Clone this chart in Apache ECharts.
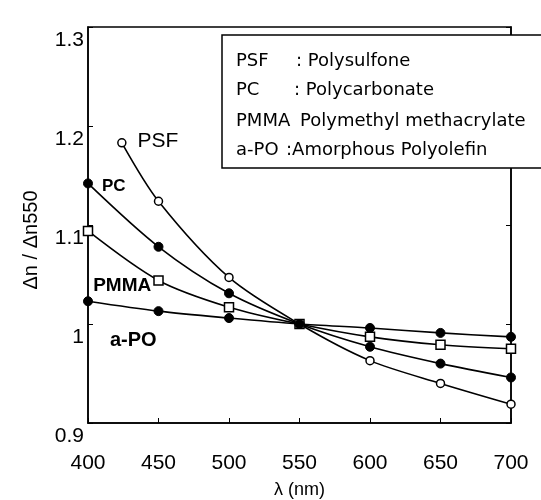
<!DOCTYPE html>
<html>
<head>
<meta charset="utf-8">
<script src="https://cdn.jsdelivr.net/npm/echarts@6/dist/echarts.min.js"></script>
<style>
  html, body { margin: 0; padding: 0; background: #fff; }
  #ct { width: 541px; height: 500px; }
</style>
</head>
<body>
<div id="ct"></div>
<script>
// wavelengths (nm)
const waveX = [400, 450, 500, 550, 600, 650, 700];
const psfX = [424, 450, 500, 550, 600, 650, 700];
// Δn / Δn550
const psf = [1.183, 1.124, 1.047, 1.0, 0.963, 0.940, 0.919];
const pc = [1.142, 1.078, 1.031, 1.0, 0.977, 0.960, 0.946];
const pmma = [1.094, 1.044, 1.017, 1.0, 0.987, 0.979, 0.975];
const apo = [1.023, 1.013, 1.006, 1.0, 0.996, 0.991, 0.987];
const xTicks = [400, 450, 500, 550, 600, 650, 700];
const yTicks = [0.9, 1.0, 1.1, 1.2, 1.3];
// legend box lines
const legendKeys = ["PSF", "PC", "PMMA", "a-PO"];
const legendNames = [": Polysulfone", ": Polycarbonate", "Polymethyl methacrylate", ":Amorphous Polyolefin"];

const chart = echarts.init(document.getElementById("ct"));

function pairs(xs, ys) {
  return xs.map((x, i) => [x, ys[i]]);
}

// put a text label on one point of a series
function withLabel(data, idx, label) {
  data[idx] = { value: data[idx], label: label };
  return data;
}

const baseSeries = {
  type: "line",
  smooth: 0.3,
  lineStyle: { color: "#000", width: 1.6 },
  itemStyle: { color: "#fff", borderColor: "#000", borderWidth: 1.5 },
  z: 3
};

const font = "Liberation Sans, Arial, sans-serif";
const rowY = [61, 90, 121, 150];

const option = {
  animation: false,
  backgroundColor: "#fff",
  grid: {
    left: 88, right: 30, top: 27, bottom: 77,
    containLabel: false, outerBoundsMode: "none",
    show: true, borderColor: "#000", borderWidth: 1.5
  },
  xAxis: {
    type: "value",
    min: 400,
    max: 700,
    interval: 50,
    name: "λ (nm)",
    nameLocation: "middle",
    nameGap: 58,
    nameTextStyle: { color: "#000", fontSize: 18, fontFamily: font },
    axisLine: { lineStyle: { color: "#000", width: 1.5 } },
    axisTick: { inside: true, length: 5, lineStyle: { color: "#000" } },
    axisLabel: {
      color: "#000", fontSize: 21, fontFamily: font, margin: 30,
      formatter: v => String(v)
    },
    splitLine: { show: false }
  },
  yAxis: [
    {
      type: "value",
      min: 0.9,
      max: 1.3,
      interval: 0.1,
      name: "Δn / Δn550",
      nameLocation: "middle",
      nameRotate: 90,
      nameGap: 47,
      nameTextStyle: { color: "#000", fontSize: 20, fontFamily: font, padding: [0, 30, 0, 0] },
      axisLine: { lineStyle: { color: "#000", width: 1.5 } },
      axisTick: { inside: true, length: 5, lineStyle: { color: "#000" } },
      axisLabel: {
        color: "#000", fontSize: 21, fontFamily: font, margin: 4,
        lineHeight: 26,
        // blank first line pushes the number below its tick, as in the scan
        formatter: v => "\n" + (Math.abs(v - 1) < 1e-6 ? "1" : v.toFixed(1))
      },
      splitLine: { show: false }
    },
    {
      type: "value",
      position: "right",
      min: 0.9,
      max: 1.3,
      interval: 0.1,
      axisLine: { show: true, lineStyle: { color: "#000", width: 1.5 } },
      axisTick: { inside: true, length: 5, lineStyle: { color: "#000" } },
      axisLabel: { show: false },
      splitLine: { show: false }
    }
  ],
  graphic: [
    {
      type: "rect",
      shape: { x: 222, y: 35, width: 330, height: 133 },
      style: { fill: "#fff", stroke: "#000", lineWidth: 1.5 },
      z: 10
    }
  ].concat(legendKeys.map((k, i) => ({
    type: "text",
    x: 236,
    y: rowY[i],
    style: { text: k, fill: "#000", font: "18px DejaVu Sans", textVerticalAlign: "middle" },
    z: 11
  }))).concat(legendNames.map((n, i) => ({
    type: "text",
    x: [296, 294, 300, 286][i],
    y: rowY[i],
    style: { text: n, fill: "#000", font: "18px DejaVu Sans", textVerticalAlign: "middle" },
    z: 11
  }))),
  series: [
    Object.assign({}, baseSeries, {
      name: "PSF",
      symbol: "circle",
      symbolSize: 8,
      data: withLabel(pairs(psfX, psf), 0, {
        show: true, position: "right", offset: [6, -2], formatter: "PSF",
        color: "#000", fontSize: 21, fontFamily: font
      })
    }),
    Object.assign({}, baseSeries, {
      name: "PC",
      symbol: "circle",
      symbolSize: 9,
      itemStyle: { color: "#000", borderColor: "#000", borderWidth: 1 },
      data: withLabel(pairs(waveX, pc), 0, {
        show: true, position: "right", offset: [4, 3], formatter: "PC",
        color: "#000", fontSize: 17, fontWeight: "bold", fontFamily: font
      })
    }),
    Object.assign({}, baseSeries, {
      name: "PMMA",
      symbol: "rect",
      symbolSize: 9,
      data: withLabel(pairs(waveX, pmma), 1, {
        show: true, position: "left", offset: [3, 5], formatter: "PMMA",
        color: "#000", fontSize: 19, fontWeight: "bold", fontFamily: font
      })
    }),
    Object.assign({}, baseSeries, {
      name: "a-PO",
      symbol: "circle",
      symbolSize: 9,
      itemStyle: { color: "#000", borderColor: "#000", borderWidth: 1 },
      data: withLabel(pairs(waveX, apo), 0, {
        show: true, position: "right", offset: [12, 39], formatter: "a-PO",
        color: "#000", fontSize: 20, fontWeight: "bold", fontFamily: font
      })
    })
  ]
};

chart.setOption(option);
</script>
</body>
</html>
